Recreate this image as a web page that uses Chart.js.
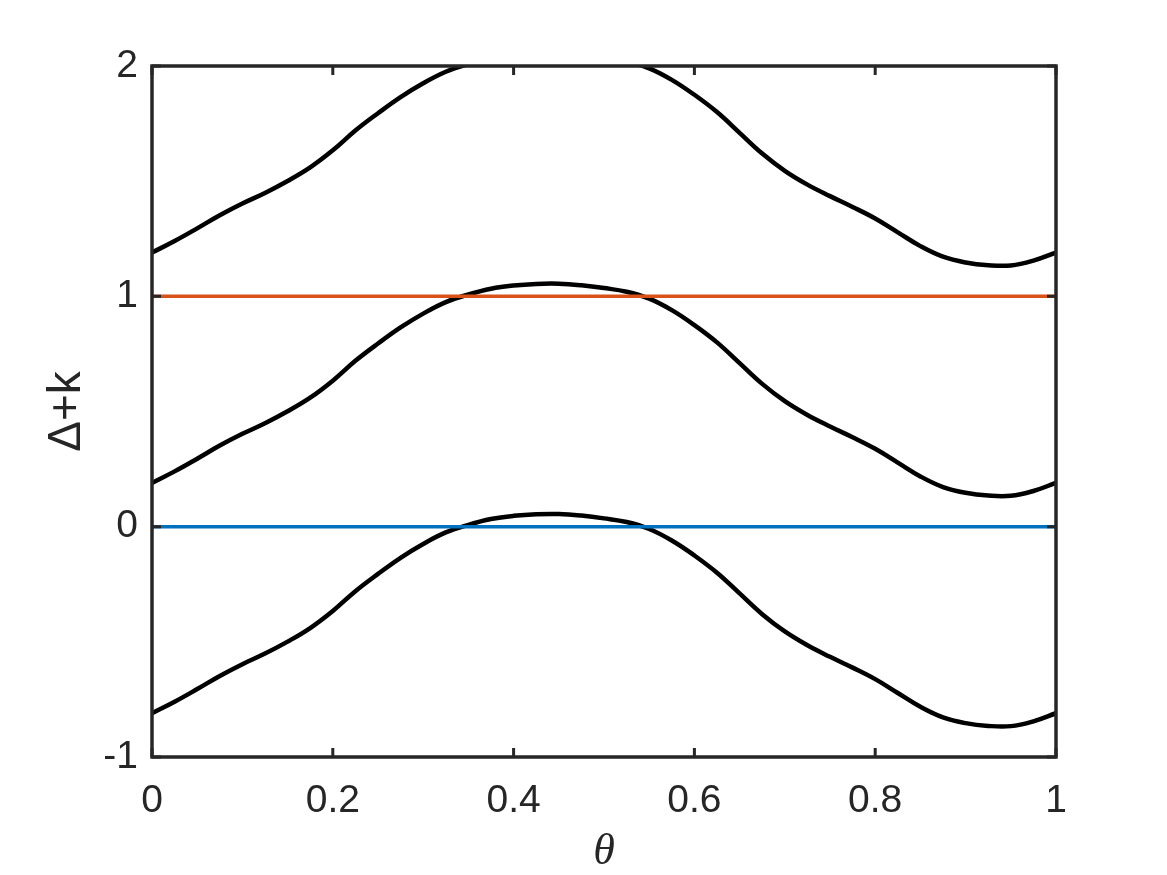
<!DOCTYPE html>
<html>
<head>
<meta charset="utf-8">
<script src="https://cdn.jsdelivr.net/npm/chart.js@4.4.1/dist/chart.umd.min.js"></script>
<style>
  html, body { margin: 0; padding: 0; background: #fff; }
  #wrap { width: 1167px; height: 875px; }
</style>
</head>
<body>
<div id="wrap"><canvas id="chart" width="1167" height="875"></canvas></div>
<script>
// theta samples along the x axis
var theta = [0, 0.025, 0.05, 0.075, 0.1, 0.125, 0.15, 0.175, 0.2, 0.225,
  0.25, 0.275, 0.3, 0.325, 0.35, 0.375, 0.4, 0.425, 0.45, 0.475,
  0.5, 0.525, 0.55, 0.575, 0.6, 0.625, 0.65, 0.675, 0.7, 0.725,
  0.75, 0.775, 0.8, 0.825, 0.85, 0.875, 0.9, 0.925, 0.95, 0.975, 1]

// Delta(theta)
var delta = [-0.81, -0.76, -0.705, -0.648, -0.597, -0.551, -0.499, -0.44, -0.366, -0.28,
  -0.205, -0.135, -0.075, -0.025, 0.008, 0.033, 0.047, 0.054, 0.055, 0.048,
  0.036, 0.02, -0.01, -0.06, -0.125, -0.2, -0.29, -0.38, -0.455, -0.515,
  -0.565, -0.612, -0.662, -0.722, -0.782, -0.828, -0.853, -0.865, -0.866, -0.845, -0.81]

// the curves are Delta + k
var kShifts = [0, 1, 2]

// horizontal reference lines
var refLevels = [0, 1]
var refColors = ['#0072BD', '#D95319']

var xTicks = [0, 0.2, 0.4, 0.6, 0.8, 1]
var yTicks = [-1, 0, 1, 2]

var axisColor = '#262626'

function curvePoints(k) {
  var pts = []
  for (var i = 0; i < theta.length; i++) {
    pts.push({ x: theta[i], y: delta[i] + k })
  }
  return pts
}

var datasets = []
// reference lines first so they are painted on top of the curves
for (var r = 0; r < refLevels.length; r++) {
  datasets.push({
    data: [{ x: 0, y: refLevels[r] }, { x: 1, y: refLevels[r] }],
    borderColor: refColors[r],
    borderWidth: 3.5,
    pointRadius: 0,
    clip: 0
  })
}
for (var j = 0; j < kShifts.length; j++) {
  datasets.push({
    data: curvePoints(kShifts[j]),
    borderColor: '#000000',
    borderWidth: 4.5,
    pointRadius: 0,
    tension: 0.4,
    clip: 0
  })
}

// matlab style box with inward ticks
var boxPlugin = {
  id: 'box',
  afterDraw: function (chart) {
    var ctx = chart.ctx
    var a = chart.chartArea
    var xs = chart.scales.x
    var ys = chart.scales.y
    var len = 9
    ctx.save()
    ctx.strokeStyle = axisColor
    ctx.lineWidth = 3.5
    ctx.strokeRect(a.left, a.top, a.right - a.left, a.bottom - a.top)
    ctx.lineWidth = 3
    ctx.beginPath()
    xTicks.forEach(function (v) {
      var px = xs.getPixelForValue(v)
      ctx.moveTo(px, a.bottom); ctx.lineTo(px, a.bottom - len)
      ctx.moveTo(px, a.top); ctx.lineTo(px, a.top + len)
    })
    yTicks.forEach(function (v) {
      var py = ys.getPixelForValue(v)
      ctx.moveTo(a.left, py); ctx.lineTo(a.left + len, py)
      ctx.moveTo(a.right, py); ctx.lineTo(a.right - len, py)
    })
    ctx.stroke()
    ctx.restore()
  }
}

var ctx = document.getElementById('chart').getContext('2d')
var chart = new Chart(ctx, {
  type: 'line',
  data: { datasets: datasets },
  plugins: [boxPlugin],
  options: {
    responsive: false,
    animation: false,
    layout: { padding: { left: 0, right: 111, top: 66, bottom: 0 } },
    plugins: { legend: { display: false }, tooltip: { enabled: false } },
    scales: {
      x: {
        type: 'linear',
        min: 0,
        max: 1,
        afterBuildTicks: function (scale) {
          scale.ticks = xTicks.map(function (v) { return { value: v } })
        },
        afterFit: function (scale) { scale.height = 875 - 757 },
        grid: { display: false, drawTicks: false },
        border: { display: false },
        ticks: {
          padding: 21,
          color: axisColor,
          font: { family: 'Liberation Sans, Arial, sans-serif', size: 39 },
          callback: function (v) { return String(v) }
        },
        title: {
          display: true,
          text: 'θ',
          color: axisColor,
          padding: { top: 0, bottom: 1 },
          font: { family: 'Liberation Serif, Times New Roman, serif', style: 'italic', size: 44, lineHeight: 1 }
        }
      },
      y: {
        type: 'linear',
        min: -1,
        max: 2,
        afterBuildTicks: function (scale) {
          scale.ticks = yTicks.map(function (v) { return { value: v } })
        },
        afterFit: function (scale) { scale.width = 152 },
        grid: { display: false, drawTicks: false },
        border: { display: false },
        ticks: {
          padding: 14,
          color: axisColor,
          font: { family: 'Liberation Sans, Arial, sans-serif', size: 39 },
          callback: function (v) { return String(v) }
        },
        title: {
          display: true,
          text: 'Δ+k',
          color: axisColor,
          padding: { top: 44, bottom: 0 },
          font: { family: 'Liberation Sans, Arial, sans-serif', size: 46, lineHeight: 1 }
        }
      }
    }
  }
})
</script>
</body>
</html>
